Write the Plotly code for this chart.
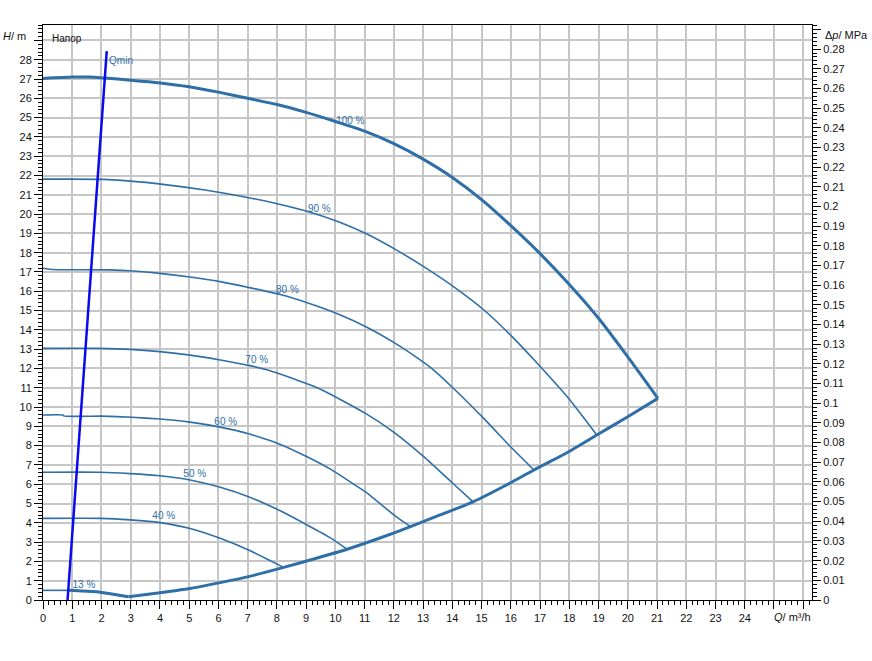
import plotly.graph_objects as go

# ---------------- data ----------------
Q100 = [0, 1.0, 1.6, 2.1, 3.0, 4.0, 5.0, 6.0, 7.0, 8.0, 9.0, 10.0, 11.0, 12.0, 13.0, 14.0, 15.0, 16.0, 17.0, 18.0, 19.0, 20.0, 21.03]
H100 = [27.03, 27.1, 27.1, 27.05, 26.94, 26.8, 26.6, 26.32, 26.0, 25.68, 25.27, 24.8, 24.3, 23.65, 22.85, 21.9, 20.75, 19.4, 17.95, 16.35, 14.6, 12.6, 10.45]

Q90 = [0, 2.07, 2.98, 3.66, 5.03, 6.06, 7.03, 8.12, 9.14, 10.17, 11.06, 12.05, 13.06, 14.05, 15.08, 16.05, 16.8, 17.93, 18.94]
H90 = [21.81, 21.8, 21.71, 21.62, 21.36, 21.12, 20.85, 20.5, 20.1, 19.57, 18.98, 18.17, 17.24, 16.23, 15.03, 13.64, 12.44, 10.53, 8.55]

Q80 = [0, 0.3, 2.29, 3.09, 4.0, 5.03, 6.06, 7.03, 8.12, 9.14, 10.17, 11.06, 12.05, 12.8, 13.25, 14.05, 15.08, 16.05, 16.79]
H80 = [17.19, 17.13, 17.11, 17.05, 16.93, 16.74, 16.5, 16.2, 15.83, 15.35, 14.77, 14.15, 13.3, 12.55, 12.05, 10.95, 9.4, 7.85, 6.74]

Q70 = [0, 1.95, 2.98, 4.0, 5.03, 6.06, 7.03, 7.66, 8.5, 9.49, 11.03, 12.05, 13.02, 14.05, 14.71]
H70 = [13.04, 13.04, 12.99, 12.87, 12.69, 12.44, 12.16, 11.93, 11.5, 10.92, 9.67, 8.64, 7.43, 6.0, 5.09]

Q60 = [0, 0.68, 0.72, 2.0, 3.04, 4.0, 5.03, 6.06, 7.03, 8.06, 9.03, 9.83, 11.03, 12.05, 12.57]
H60 = [9.59, 9.59, 9.53, 9.53, 9.47, 9.38, 9.22, 8.96, 8.62, 8.1, 7.42, 6.78, 5.6, 4.35, 3.8]

Q50 = [0, 1.95, 2.98, 4.0, 5.03, 6.06, 7.03, 8.06, 9.03, 9.83, 10.4]
H50 = [6.62, 6.62, 6.55, 6.44, 6.22, 5.84, 5.35, 4.66, 3.89, 3.22, 2.63]

Q40 = [0, 2.0, 2.98, 4.0, 5.03, 6.06, 7.03, 8.23]
H40 = [4.23, 4.23, 4.15, 4.01, 3.71, 3.2, 2.59, 1.69]

Q13 = [0, 0.87]
H13 = [0.5, 0.5]

# tail of the 13 % curve (drawn thick, part of the lower boundary)
Q13_TAIL = [0.87, 1.3, 1.84, 2.3, 2.92]
H13_TAIL = [0.5, 0.47, 0.43, 0.32, 0.17]

# system curve through the curve ends
QSYS = [2.92, 4.0, 5.03, 6.06, 7.03, 8.23, 9.2, 10.4, 11.5, 12.57, 13.6, 14.71, 15.8, 16.79, 17.9, 18.94, 20.0, 21.03]
HSYS = [0.17, 0.38, 0.6, 0.9, 1.21, 1.69, 2.1, 2.63, 3.2, 3.8, 4.42, 5.09, 5.92, 6.74, 7.62, 8.55, 9.5, 10.45]

QMIN_Q = [0.84, 2.18]
QMIN_H = [0.0, 28.45]

LABELS = ["100 %", "90 %", "80 %", "70 %", "60 %", "50 %", "40 %", "13 %"]
LABEL_Q = [10.51, 9.45, 8.36, 7.31, 6.25, 5.19, 4.13, 1.40]
LABEL_H = [24.78, 20.24, 16.06, 12.40, 9.19, 6.51, 4.32, 0.74]

X_TICKS = list(range(0, 27))
X_TICK_LABELS = [str(v) for v in range(0, 25)] + ["", ""]
Y_TICKS = list(range(0, 30))
Y_TICK_LABELS = [str(v) for v in range(0, 29)] + [""]
P_TICKS = [i / 100 for i in range(0, 30)]
P_TICK_LABELS = [f"{i / 100:g}" for i in range(0, 29)] + [""]

X_MAX = 26.3
Y_MAX = 29.8
M_TO_MPA = 0.00980665

# ---------------- figure ----------------
BLUE = "#2f6fa7"
FONT = "Liberation Sans, Arial, sans-serif"

fig = go.Figure()

thin = dict(color=BLUE, width=1.6, shape="spline", smoothing=0.6)
thick = dict(color=BLUE, width=3, shape="spline", smoothing=0.6)

for q, h in [(Q90, H90), (Q80, H80), (Q70, H70), (Q50, H50), (Q40, H40)]:
    fig.add_trace(go.Scatter(x=q, y=h, mode="lines", line=thin, showlegend=False, hoverinfo="skip"))

# 60 % has a small step near the start: lighter smoothing
fig.add_trace(go.Scatter(x=Q60, y=H60, mode="lines", line=dict(color=BLUE, width=1.6, shape="spline", smoothing=0.4),
                         showlegend=False, hoverinfo="skip"))
fig.add_trace(go.Scatter(x=Q13, y=H13, mode="lines", line=dict(color=BLUE, width=1.6), showlegend=False, hoverinfo="skip"))
fig.add_trace(go.Scatter(x=Q13_TAIL, y=H13_TAIL, mode="lines", line=dict(color=BLUE, width=3),
                         showlegend=False, hoverinfo="skip"))

fig.add_trace(go.Scatter(x=QSYS, y=HSYS, mode="lines", line=thick, showlegend=False, hoverinfo="skip"))
fig.add_trace(go.Scatter(x=Q100, y=H100, mode="lines", line=thick, showlegend=False, hoverinfo="skip"))

fig.add_trace(go.Scatter(x=QMIN_Q, y=QMIN_H, mode="lines", line=dict(color="#0a0aee", width=2.5),
                         showlegend=False, hoverinfo="skip"))

fig.add_trace(go.Scatter(x=LABEL_Q, y=LABEL_H, mode="text", text=LABELS, textposition="middle center",
                         textfont=dict(family=FONT, size=10, color=BLUE), showlegend=False, hoverinfo="skip"))
fig.add_trace(go.Scatter(x=[2.26], y=[27.93], mode="text", text=["Qmin"], textposition="middle right",
                         textfont=dict(family=FONT, size=10, color=BLUE), showlegend=False, hoverinfo="skip"))

# dummy trace on right axis
fig.add_trace(go.Scatter(x=[None], y=[None], yaxis="y2", showlegend=False, hoverinfo="skip"))

tickfont = dict(family=FONT, size=11, color="#111")

fig.update_layout(
    width=872, height=661,
    margin=dict(l=43, r=60, t=25, b=61),
    paper_bgcolor="white", plot_bgcolor="white",
    xaxis=dict(range=[0, X_MAX], tickmode="array", tickvals=X_TICKS, ticktext=X_TICK_LABELS,
               ticks="outside", ticklen=8, tickwidth=1, tickcolor="black",
               minor=dict(dtick=0.2, tick0=0, ticks="outside", ticklen=4, tickcolor="black", showgrid=False),
               showgrid=True, gridcolor="#c6c6c6", gridwidth=2,
               showline=True, linecolor="black", linewidth=1, mirror=True,
               zeroline=False, tickfont=tickfont, fixedrange=True),
    yaxis=dict(range=[0, Y_MAX], tickmode="array", tickvals=Y_TICKS, ticktext=Y_TICK_LABELS,
               ticks="outside", ticklen=8, tickwidth=1, tickcolor="black",
               minor=dict(dtick=0.2, tick0=0, ticks="outside", ticklen=4, tickcolor="black", showgrid=False),
               showgrid=True, gridcolor="#c6c6c6", gridwidth=2,
               showline=True, linecolor="black", linewidth=1, mirror=True,
               zeroline=False, tickfont=tickfont, fixedrange=True),
    yaxis2=dict(range=[0, Y_MAX * M_TO_MPA], overlaying="y", side="right", anchor="x",
                tickmode="array", tickvals=P_TICKS, ticktext=P_TICK_LABELS,
                ticks="outside", ticklen=8, tickwidth=1, tickcolor="black",
                minor=dict(dtick=0.002, tick0=0, ticks="outside", ticklen=4, tickcolor="black", showgrid=False),
                showgrid=False, showline=True, linecolor="black", linewidth=1,
                zeroline=False, tickfont=tickfont, fixedrange=True),
    annotations=[
        dict(text="<i>H</i>/ m", xref="paper", yref="paper", x=-15 / 769, y=(600 - 36) / 575,
             xanchor="right", yanchor="middle", showarrow=False, font=dict(family=FONT, size=11, color="#111")),
        dict(text="Напор", xref="paper", yref="paper", x=7 / 769, y=(600 - 38.5) / 575,
             xanchor="left", yanchor="middle", showarrow=False, font=dict(family=FONT, size=10, color="#111")),
        dict(text="Δ<i>p</i>/ MPa", xref="paper", yref="paper", x=(823 - 43) / 769, y=(600 - 35) / 575,
             xanchor="left", yanchor="middle", showarrow=False, font=dict(family=FONT, size=11, color="#111")),
        dict(text="<i>Q</i>/ m³/h", xref="paper", yref="paper", x=(792.5 - 43) / 769, y=(600 - 617) / 575,
             xanchor="center", yanchor="middle", showarrow=False, font=dict(family=FONT, size=11, color="#111")),
    ],
)

fig.write_html("out.html")
